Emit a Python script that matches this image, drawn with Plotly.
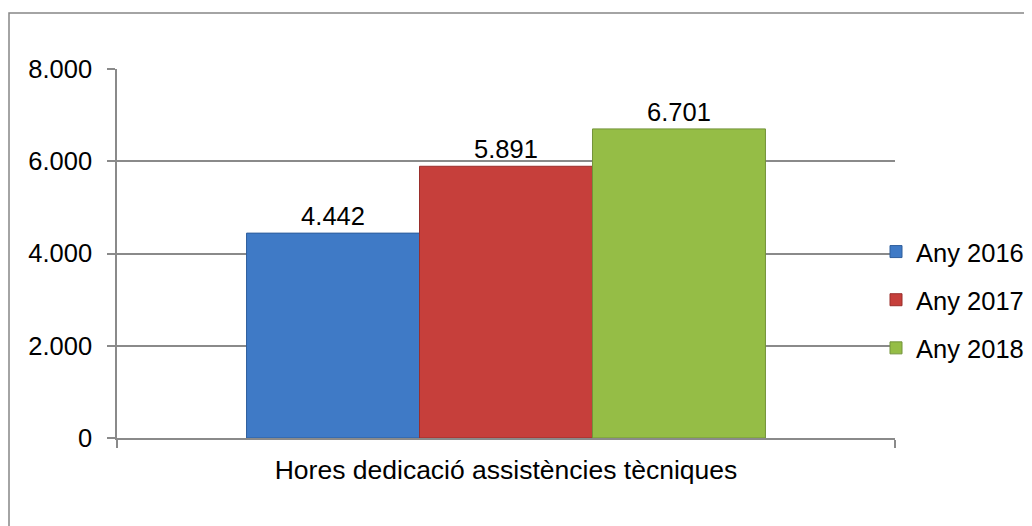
import plotly.graph_objects as go

category = ["Hores dedicació assistències tècniques"]
series_names = ["Any 2016", "Any 2017", "Any 2018"]
series_values = [[4442], [5891], [6701]]
y_ticks = [0, 2000, 4000, 6000, 8000]

fills = ["#3f7ac6", "#c63f3b", "#95bd46"]
edges = ["#2f5e9c", "#9a2e2b", "#73933a"]

FONT = "Liberation Sans, Arial, sans-serif"
GRID = "#8a8a8a"

W, H = 1024, 518
L, R, T, B = 109, 137, 61, 88
pw, ph = W - L - R, H - T - B

fig = go.Figure()
for name, vals, fc, ec in zip(series_names, series_values, fills, edges):
    fig.add_trace(go.Bar(
        x=category, y=vals, name=name, legendgroup=name,
        marker=dict(color=fc, line=dict(color=ec, width=1)),
        texttemplate="%{y:,d}", textposition="outside",
        textfont=dict(family=FONT, size=25.5, color="#000000"),
        cliponaxis=False,
    ))

fig.update_layout(
    width=W, height=H,
    margin=dict(l=L, r=R, t=T, b=B, autoexpand=False),
    paper_bgcolor="white", plot_bgcolor="white",
    barmode="group", bargap=0.333, bargroupgap=0,
    separators=",.",
    font=dict(family=FONT, size=25.5, color="#000000"),
    showlegend=True,
    legend=dict(
        x=(868 - L) / pw, xanchor="left", y=0.374, yanchor="middle",
        font=dict(family=FONT, size=25.5, color="#000000"),
        traceorder="grouped", tracegroupgap=12,
        bgcolor="rgba(0,0,0,0)",
    ),
    xaxis=dict(
        type="category", showline=True, linecolor=GRID, linewidth=1.5,
        ticks="outside", ticklen=8, tickcolor=GRID, tickwidth=1.5,
        tickson="boundaries", showgrid=False,
        tickfont=dict(family=FONT, size=26.5, color="#000000"),
        ticklabelstandoff=7,
    ),
    yaxis=dict(
        range=[0, 8000], tickvals=y_ticks, tickformat=",d",
        showline=True, linecolor=GRID, linewidth=1.5,
        ticks="outside", ticklen=8, tickcolor=GRID, tickwidth=1.5,
        showgrid=True, gridcolor=GRID, gridwidth=1.5, zeroline=False,
        tickfont=dict(family=FONT, size=25.5, color="#000000"),
        ticklabelstandoff=10,
    ),
    shapes=[dict(
        type="rect", xref="paper", yref="paper",
        x0=(1 - L) / pw, x1=1.3, y0=-0.4, y1=(H - B - 5) / ph,
        line=dict(color="#868686", width=1.5), fillcolor="rgba(0,0,0,0)",
        layer="below",
    )],
)

fig.write_html("out.html")
